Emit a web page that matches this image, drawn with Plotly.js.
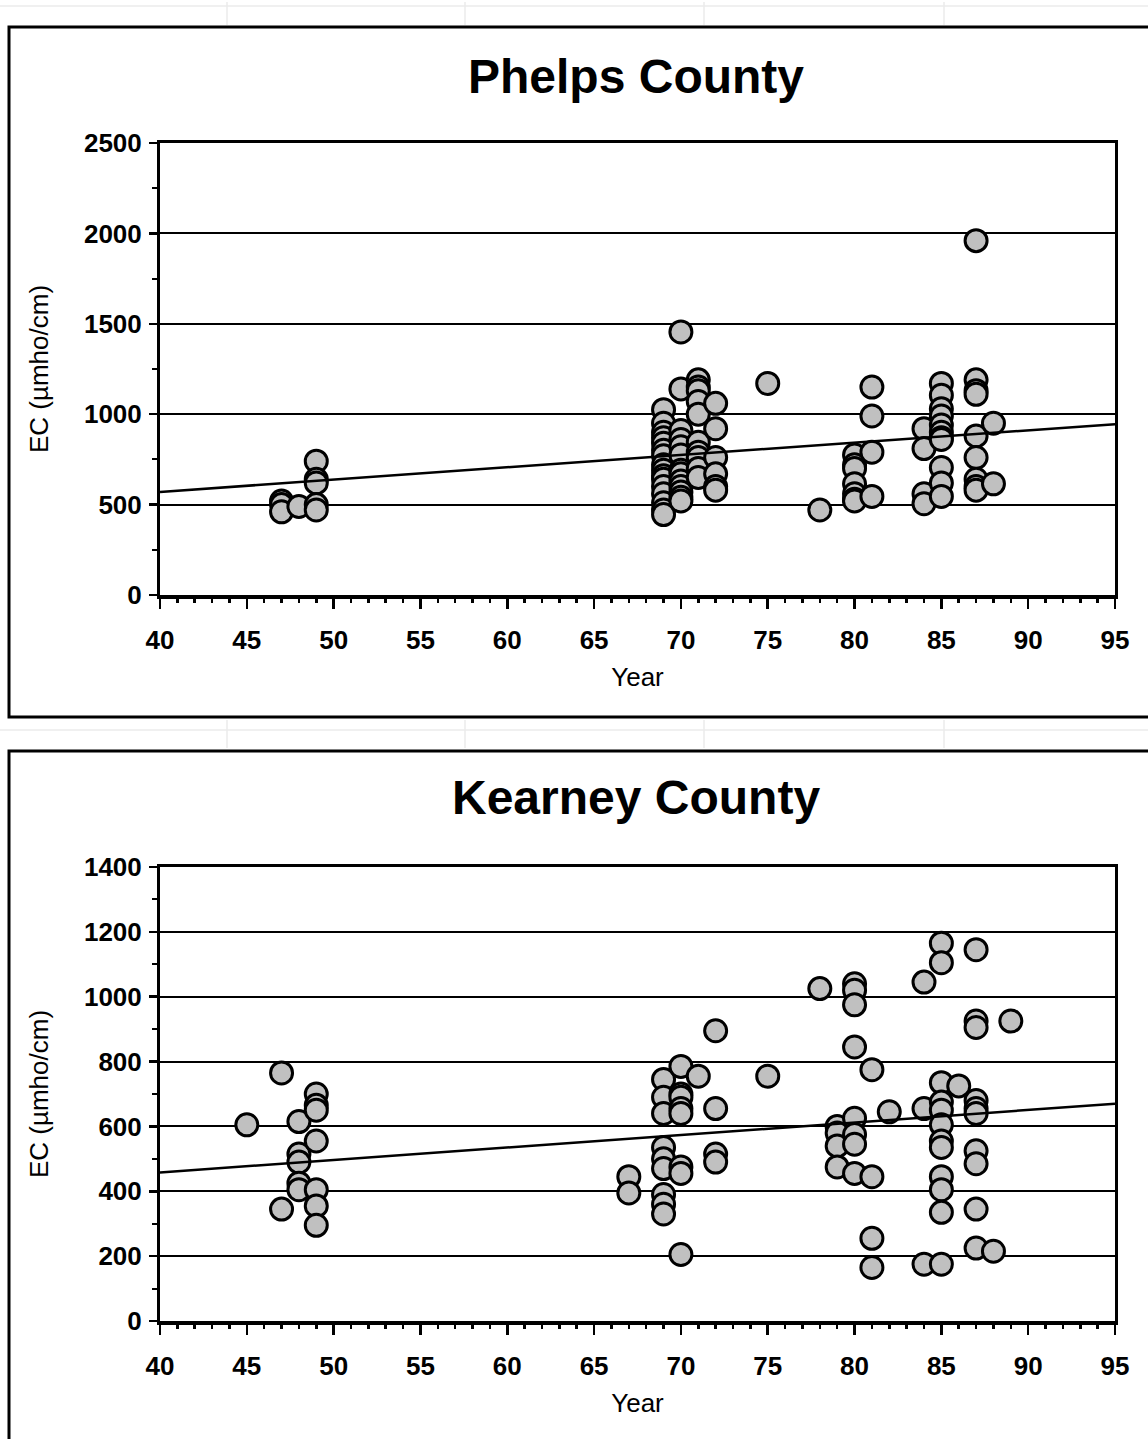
<!DOCTYPE html>
<html>
<head>
<meta charset="utf-8">
<script src="https://cdn.plot.ly/plotly-3.0.1.min.js"></script>
<style>
  html, body { margin: 0; padding: 0; background: #ffffff; }
  #chart { width: 1148px; height: 1439px; }
</style>
</head>
<body>
<div id="chart"></div>
<script>
// Sampling years (two-digit) and the EC readings taken in each year
const phelpsYears = [47, 48, 49, 69, 70, 71, 72, 75, 78, 80, 81, 84, 85, 87, 88];
const phelpsEC = [
  [520, 500, 460],
  [490],
  [740, 640, 620, 500, 470],
  [1025, 950, 900, 870, 840, 800, 770, 720, 690, 660, 640, 600, 560, 510, 470, 445],
  [1455, 1140, 910, 860, 820, 775, 690, 670, 630, 600, 570, 540, 520],
  [1190, 1150, 1130, 1070, 1000, 845, 790, 760, 700, 650],
  [1060, 920, 760, 670, 600, 580],
  [1170],
  [470],
  [775, 720, 700, 615, 560, 530, 520],
  [1150, 990, 790, 545],
  [920, 810, 560, 505],
  [1170, 1105, 1030, 990, 940, 900, 870, 860, 705, 620, 545],
  [1960, 1190, 1130, 1110, 880, 760, 640, 600, 580],
  [950, 615]
];
const phelpsTrendYear = [40, 95];
const phelpsTrendEC = [570, 945];

const kearneyYears = [45, 47, 48, 49, 67, 69, 70, 71, 72, 75, 78, 79, 80, 81, 82, 84, 85, 86, 87, 88, 89];
const kearneyEC = [
  [605],
  [765, 345],
  [615, 515, 490, 425, 405],
  [700, 665, 650, 555, 405, 355, 295],
  [445, 395],
  [745, 690, 640, 535, 500, 470, 390, 360, 330],
  [785, 700, 690, 655, 640, 475, 455, 205],
  [755],
  [895, 655, 515, 490],
  [755],
  [1025],
  [600, 580, 540, 475],
  [1040, 1020, 975, 845, 625, 575, 545, 455],
  [775, 445, 255, 165],
  [645],
  [1045, 655, 175],
  [1165, 1105, 735, 675, 650, 605, 555, 535, 445, 405, 335, 175],
  [725],
  [1145, 925, 905, 680, 655, 640, 525, 485, 345, 225],
  [215],
  [925]
];
const kearneyTrendYear = [40, 95];
const kearneyTrendEC = [458, 670];

const xTickVals = [40, 45, 50, 55, 60, 65, 70, 75, 80, 85, 90, 95];

// Expand per-year groups into matching x / y lists
function expand(years, groups) {
  const xs = [], ys = [];
  years.forEach((yr, i) => groups[i].forEach(v => { xs.push(yr); ys.push(v); }));
  return { xs, ys };
}
const phelps = expand(phelpsYears, phelpsEC);
const kearney = expand(kearneyYears, kearneyEC);

const W = 1148, H = 1439;
const px = v => v / W;
const py = v => 1 - v / H;

const FONT = 'Liberation Sans, Arial, Helvetica, sans-serif';
const tickFont = { family: FONT, size: 26, color: '#000', weight: 'bold' };
const titleFont = { family: FONT, size: 26, color: '#000' };

const markerStyle = {
  size: 22,
  color: '#c0c0c0',
  line: { color: '#000', width: 3 }
};

const traces = [
  { type: 'scatter', mode: 'markers', x: phelps.xs, y: phelps.ys, xaxis: 'x', yaxis: 'y',
    marker: markerStyle, cliponaxis: false, hoverinfo: 'x+y' },
  { type: 'scatter', mode: 'lines', x: phelpsTrendYear, y: phelpsTrendEC, xaxis: 'x', yaxis: 'y',
    line: { color: '#000', width: 2.5 }, hoverinfo: 'skip' },
  { type: 'scatter', mode: 'markers', x: kearney.xs, y: kearney.ys, xaxis: 'x2', yaxis: 'y2',
    marker: markerStyle, cliponaxis: false, hoverinfo: 'x+y' },
  { type: 'scatter', mode: 'lines', x: kearneyTrendYear, y: kearneyTrendEC, xaxis: 'x2', yaxis: 'y2',
    line: { color: '#000', width: 2.5 }, hoverinfo: 'skip' }
];

function xAxis(anchor) {
  return {
    anchor: anchor,
    domain: [px(160), px(1115)],
    range: [40, 95],
    tickvals: xTickVals,
    ticks: 'outside', ticklen: 10, tickwidth: 2.5, tickcolor: '#000',
    minor: { dtick: 1, tick0: 40, ticks: 'outside', ticklen: 4, tickwidth: 2.5, tickcolor: '#000', showgrid: false },
    ticklabelstandoff: 9,
    showline: true, linewidth: 3.5, linecolor: '#000', mirror: true,
    showgrid: false, zeroline: false,
    tickfont: tickFont,
    title: { text: 'Year', font: titleFont, standoff: 15 },
    fixedrange: true
  };
}

function yAxis(anchor, domain, max, step) {
  return {
    anchor: anchor,
    domain: domain,
    range: [0, max],
    dtick: step, tick0: 0,
    ticks: 'outside', ticklen: 8, tickwidth: 2.5, tickcolor: '#000',
    minor: { dtick: step / 2, ticks: 'outside', ticklen: 5, tickwidth: 2, tickcolor: '#000', showgrid: false },
    ticklabelstandoff: 2,
    showline: true, linewidth: 3, linecolor: '#000', mirror: true,
    showgrid: true, gridcolor: '#000', gridwidth: 2,
    zeroline: false,
    tickfont: tickFont,
    title: { text: 'EC (µmho/cm)', font: titleFont, standoff: 28 },
    fixedrange: true
  };
}

// Faint sheet cell lines around the two framed panels
const faint = { color: '#ebebeb', width: 1.5 };
const shapes = [];
[[0, 27], [718, 750]].forEach(([y0, y1]) => {
  [227, 465, 704, 944].forEach(x => {
    shapes.push({ type: 'line', xref: 'paper', yref: 'paper', x0: px(x), x1: px(x), y0: py(y0 + 2), y1: py(y1 - 2), line: faint, layer: 'below' });
  });
});
shapes.push({ type: 'line', xref: 'paper', yref: 'paper', x0: 0, x1: 1, y0: py(6), y1: py(6), line: faint, layer: 'below' });
shapes.push({ type: 'line', xref: 'paper', yref: 'paper', x0: 0, x1: 1, y0: py(730), y1: py(730), line: faint, layer: 'below' });

// Panel frames (open on the right / bottom edges)
shapes.push({ type: 'rect', xref: 'paper', yref: 'paper', x0: px(9), x1: px(1160), y0: py(717), y1: py(27),
  line: { color: '#000', width: 3 }, fillcolor: 'rgba(0,0,0,0)' });
shapes.push({ type: 'rect', xref: 'paper', yref: 'paper', x0: px(9), x1: px(1160), y0: py(1460), y1: py(751),
  line: { color: '#000', width: 3 }, fillcolor: 'rgba(0,0,0,0)' });

const panelTitle = { family: FONT, size: 48, color: '#000', weight: 'bold' };

const layout = {
  width: W, height: H,
  margin: { l: 0, r: 0, t: 0, b: 0 },
  paper_bgcolor: '#ffffff',
  plot_bgcolor: '#ffffff',
  showlegend: false,
  xaxis: xAxis('y'),
  yaxis: yAxis('x', [py(595), py(143)], 2500, 500),
  xaxis2: xAxis('y2'),
  yaxis2: yAxis('x2', [py(1321), py(867)], 1400, 200),
  shapes: shapes,
  annotations: [
    { xref: 'paper', yref: 'paper', x: px(636), y: py(76), text: 'Phelps County', showarrow: false,
      xanchor: 'center', yanchor: 'middle', font: panelTitle },
    { xref: 'paper', yref: 'paper', x: px(636), y: py(798), text: 'Kearney County', showarrow: false,
      xanchor: 'center', yanchor: 'middle', font: panelTitle }
  ]
};

Plotly.newPlot('chart', traces, layout, { displayModeBar: false, staticPlot: true });
</script>
</body>
</html>
